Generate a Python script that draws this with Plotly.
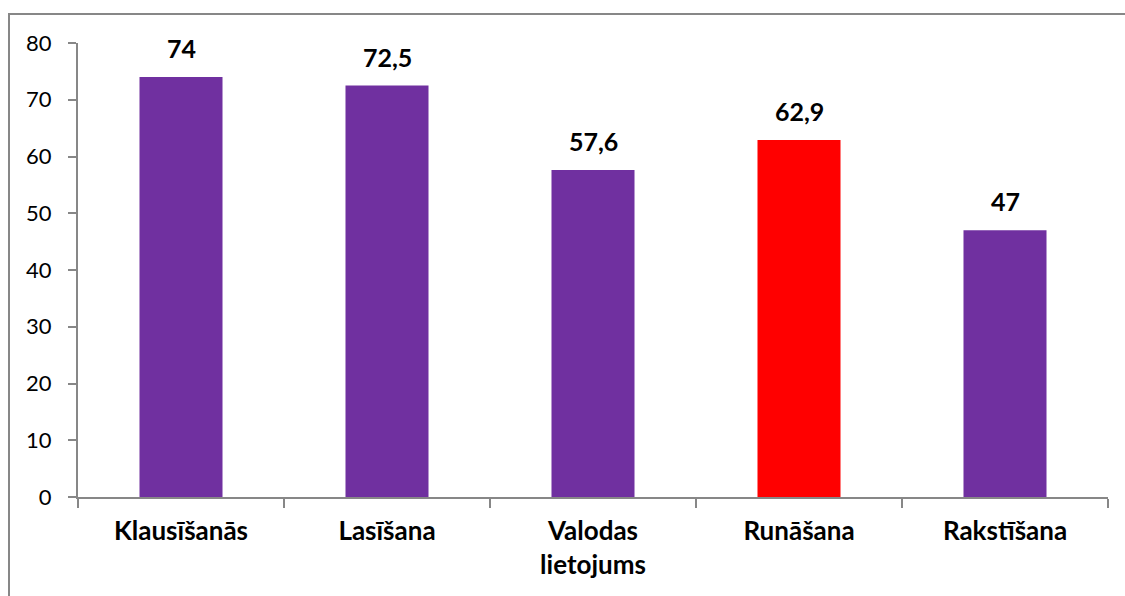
import plotly.graph_objects as go

categories = ["Klausīšanās", "Lasīšana", "Valodas<br>lietojums", "Runāšana", "Rakstīšana"]
values = [74, 72.5, 57.6, 62.9, 47]
labels = ["74", "72,5", "57,6", "62,9", "47"]
colors = ["#7030A0", "#7030A0", "#7030A0", "#FF0000", "#7030A0"]
y_ticks = [0, 10, 20, 30, 40, 50, 60, 70, 80]

FONT = "Lato, 'Open Sans', sans-serif"
W, H = 1125, 596
L, R, T, B = 78, 17, 43, 99
PW, PH = W - L - R, H - T - B

fig = go.Figure(go.Bar(
    x=categories, y=values, marker=dict(color=colors, line=dict(width=0)),
    hoverinfo="x+y",
))

for c, v, t in zip(categories, values, labels):
    fig.add_annotation(x=c, y=v, text=t, showarrow=False, yanchor="bottom",
                       yshift=12, font=dict(family=FONT, size=25, color="black", weight="bold"))

fig.update_layout(
    width=W, height=H,
    margin=dict(l=L, r=R, t=T, b=B),
    paper_bgcolor="white", plot_bgcolor="white",
    bargap=0.597, showlegend=False,
    font=dict(family=FONT, color="black"),
    xaxis=dict(
        showline=True, linecolor="#878787", linewidth=2,
        ticks="outside", tickson="boundaries", ticklen=9, tickcolor="#878787", tickwidth=2,
        tickfont=dict(family=FONT, size=26, color="black", weight="bold"),
        ticklabelstandoff=10,
        showgrid=False, zeroline=False,
    ),
    yaxis=dict(
        range=[0, 80], tickvals=y_ticks,
        showline=True, linecolor="#878787", linewidth=2,
        ticks="outside", ticklen=8, tickcolor="#878787", tickwidth=2,
        tickfont=dict(family=FONT, size=22, color="black"),
        ticklabelstandoff=12,
        showgrid=False, zeroline=False,
    ),
    shapes=[dict(type="rect", xref="paper", yref="paper",
                 x0=(9 - L) / PW, x1=1.1, y0=-0.4, y1=1 + (T - 14) / PH,
                 line=dict(color="#878787", width=2), fillcolor="rgba(0,0,0,0)", layer="below")],
)

fig.write_html("out.html", config={"displayModeBar": False},
               post_script="document.body.style.margin='0';document.body.style.overflow='hidden';")
